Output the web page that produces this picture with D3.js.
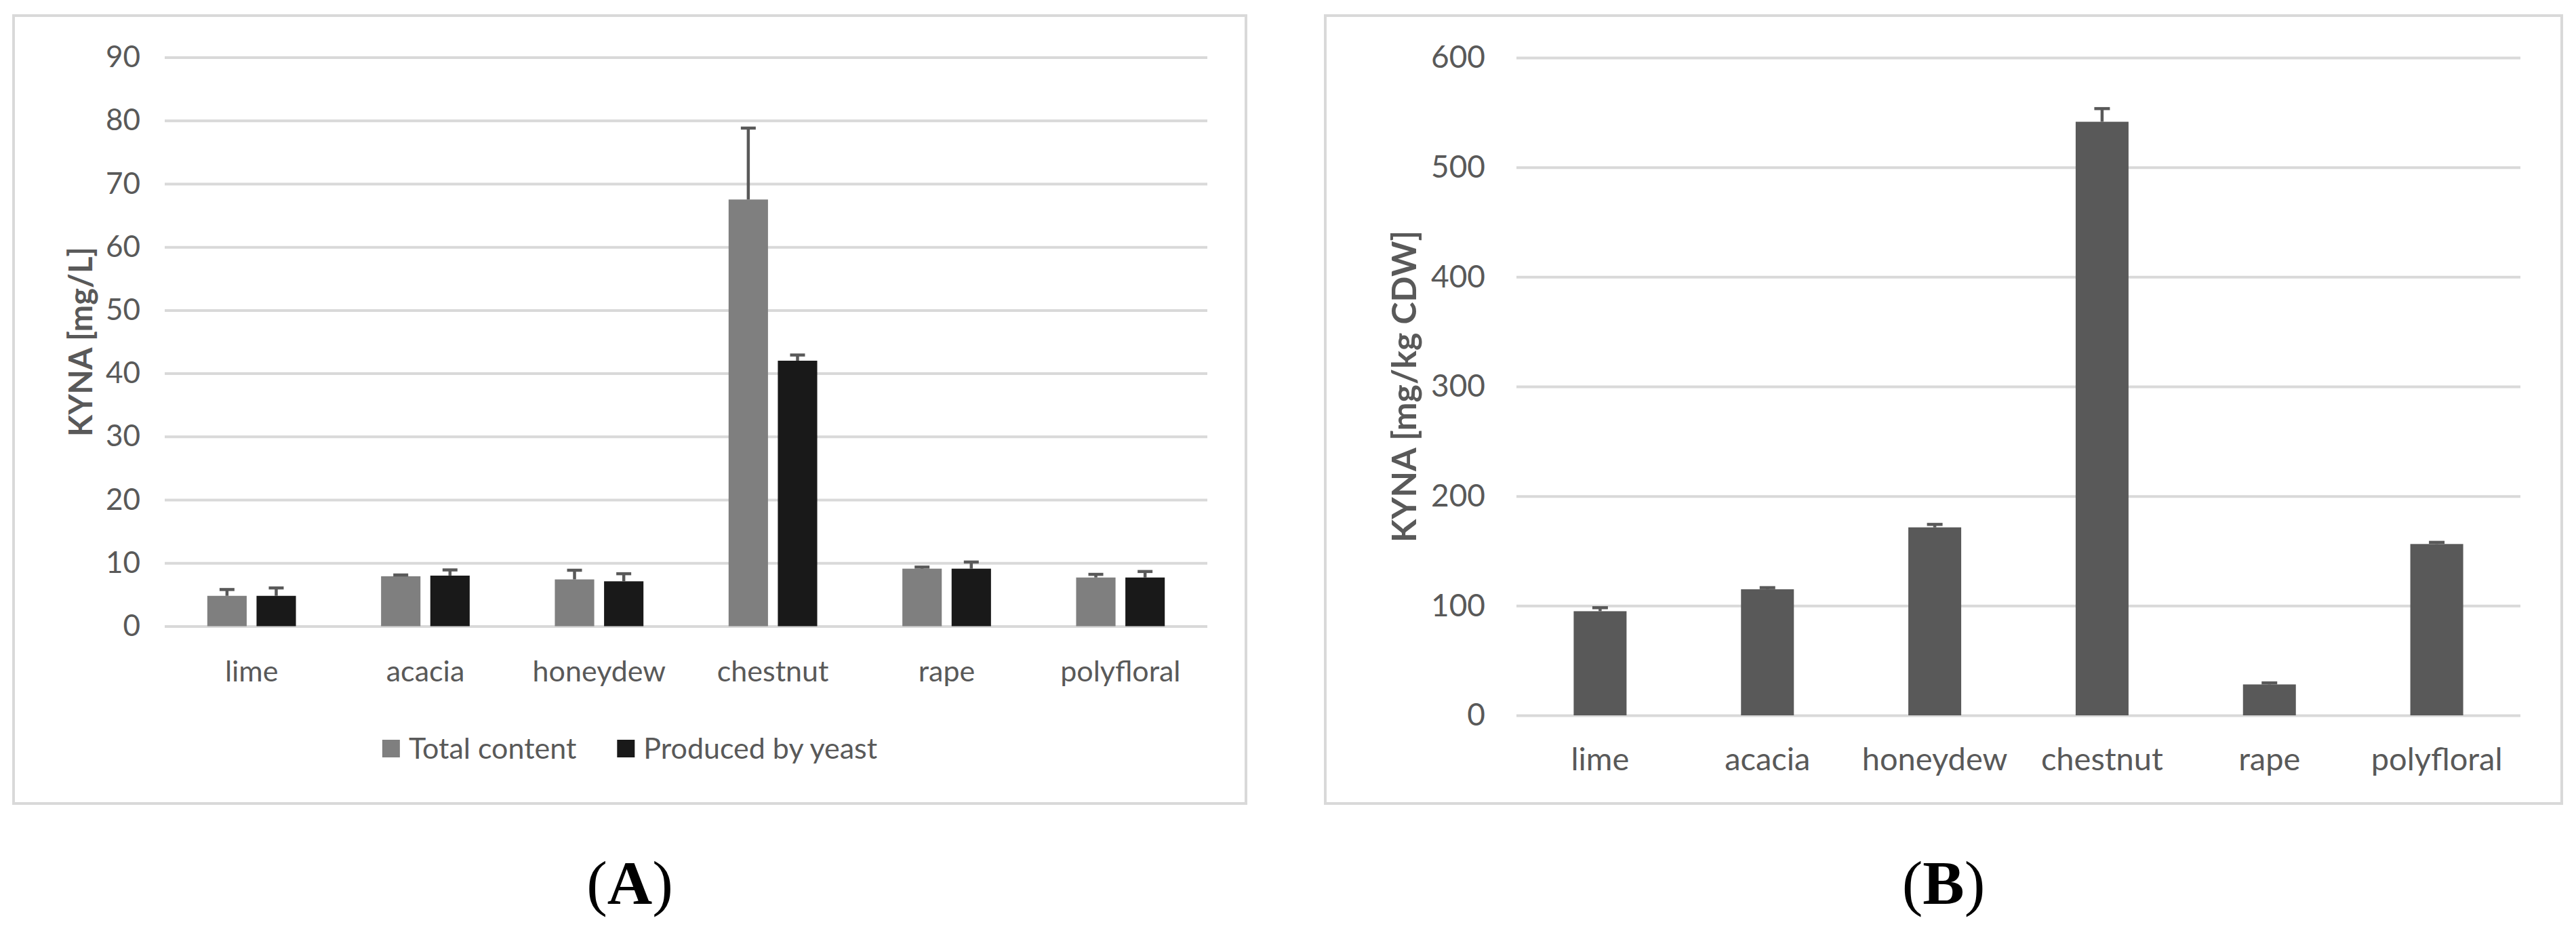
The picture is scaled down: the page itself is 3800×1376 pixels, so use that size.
<!DOCTYPE html>
<html>
<head>
<meta charset="utf-8">
<script src="https://cdn.jsdelivr.net/npm/d3@7"></script>
<style>
  body { margin: 0; background: #ffffff; }
  svg { display: block; }
</style>
</head>
<body>
<div id="chart"></div>
<script>
// --------------------------------------------
// DONNEES
// --------------------------------------------
const categories = ["lime", "acacia", "honeydew", "chestnut", "rape", "polyfloral"];

// (A) KYNA [mg/L]
const seriesA = ["Total content", "Produced by yeast"];
const totalContent = [4.8, 7.9, 7.4, 67.5, 9.1, 7.7];
const totalContentErr = [1.0, 0.2, 1.45, 11.3, 0.25, 0.5];
const producedByYeast = [4.8, 8.0, 7.1, 42.0, 9.1, 7.7];
const producedByYeastErr = [1.25, 0.9, 1.2, 0.9, 1.05, 0.95];
const ticksA = [0, 10, 20, 30, 40, 50, 60, 70, 80, 90];

// (B) KYNA [mg/kg CDW]
const kynaCdw = [95, 115, 171.5, 541.5, 28.2, 156.3];
const kynaCdwErr = [3.2, 1.5, 2.7, 12, 1.4, 1.5];
const ticksB = [0, 100, 200, 300, 400, 500, 600];

// --------------------------------------------
// STYLES
// --------------------------------------------
const W = 3800;
const H = 1376;
const SANS = "Lato, 'Open Sans', sans-serif";
const TEXT = "#595959";
const GRID = "#d9d9d9";
const colorsA = { "Total content": "#7f7f7f", "Produced by yeast": "#191919" };

const svg = d3
  .select("#chart")
  .append("svg")
  .attr("width", W)
  .attr("height", H)
  .style("background", "#ffffff");

// --------------------------------------------
// FONCTIONS
// --------------------------------------------
const drawFrame = (box) => {
  svg
    .append("rect")
    .attr("x", box.x0)
    .attr("y", box.y0)
    .attr("width", box.x1 - box.x0)
    .attr("height", box.y1 - box.y0)
    .attr("fill", "#ffffff")
    .attr("stroke", GRID)
    .attr("stroke-width", 4);
};

const drawYAxis = (g, y, ticks, plotW, opts) => {
  // axe Y + quadrillage horizontal
  const axis = g
    .append("g")
    .call(
      d3
        .axisLeft(y)
        .tickValues(ticks)
        .tickSize(-plotW)
        .tickPadding(opts.padding)
        .tickFormat(d3.format("d"))
    );
  axis.select(".domain").remove();
  axis.selectAll(".tick line").attr("stroke", GRID).attr("stroke-width", 4);
  axis
    .selectAll(".tick text")
    .attr("fill", TEXT)
    .style("font-family", SANS)
    .style("font-size", opts.fontSize + "px");
  return axis;
};

const drawXAxis = (g, x, plotH, opts) => {
  const axis = g
    .append("g")
    .attr("transform", `translate(0,${plotH})`)
    .call(d3.axisBottom(x).tickSize(0));
  axis.select(".domain").remove();
  axis
    .selectAll(".tick text")
    .attr("dy", null)
    .attr("y", opts.baseline)
    .attr("fill", TEXT)
    .style("font-family", SANS)
    .style("font-size", opts.fontSize + "px");
  return axis;
};

const drawYTitle = (label, cx, cy, fontSize) => {
  svg
    .append("text")
    .attr("transform", `translate(${cx},${cy}) rotate(-90)`)
    .attr("text-anchor", "middle")
    .attr("dominant-baseline", "central")
    .attr("fill", TEXT)
    .style("font-family", SANS)
    .style("font-weight", "bold")
    .style("font-size", fontSize + "px")
    .text(label);
};

const drawPanelLabel = (letter, cx, baseline) => {
  const t = svg
    .append("text")
    .attr("x", cx)
    .attr("y", baseline)
    .attr("text-anchor", "middle")
    .attr("fill", "#000000")
    .style("font-family", "'Liberation Serif', 'Times New Roman', serif")
    .style("font-size", "92px");
  t.append("tspan").text("(");
  t.append("tspan").style("font-weight", "bold").text(letter);
  t.append("tspan").text(")");
};

const drawErrorBars = (g, rows, cx, y, capW, color) => {
  // barres d'erreur (direction plus, avec embout)
  const eb = g.append("g").attr("stroke", color).attr("stroke-width", 4.5);
  eb.selectAll("line.v")
    .data(rows)
    .join("line")
    .attr("class", "v")
    .attr("x1", cx)
    .attr("x2", cx)
    .attr("y1", (d) => y(d.value))
    .attr("y2", (d) => y(d.value + d.err));
  eb.selectAll("line.cap")
    .data(rows)
    .join("line")
    .attr("class", "cap")
    .attr("x1", (d) => cx(d) - capW / 2)
    .attr("x2", (d) => cx(d) + capW / 2)
    .attr("y1", (d) => y(d.value + d.err))
    .attr("y2", (d) => y(d.value + d.err));
};

// --------------------------------------------
// PANNEAU A
// --------------------------------------------
const frameA = { x0: 20, y0: 23, x1: 1838, y1: 1185 };
const plotA = { left: 243, right: 1781, top: 84.5, bottom: 923.5 };
const wA = plotA.right - plotA.left;
const hA = plotA.bottom - plotA.top;

drawFrame(frameA);

const gA = svg.append("g").attr("transform", `translate(${plotA.left},${plotA.top})`);

const yA = d3.scaleLinear().domain([0, 90]).range([hA, 0]);
const x0A = d3
  .scaleBand()
  .domain(categories)
  .range([0, wA])
  .paddingInner(0.49)
  .paddingOuter(0.245);
const x1A = d3
  .scaleBand()
  .domain(seriesA)
  .range([0, x0A.bandwidth()])
  .paddingInner(0.2);

drawYAxis(gA, yA, ticksA, wA, { padding: 36, fontSize: 44 });
drawXAxis(gA, x0A, hA, { baseline: 1005 - plotA.bottom, fontSize: 43 });

const rowsA = categories.flatMap((c, i) => [
  { cat: c, serie: seriesA[0], value: totalContent[i], err: totalContentErr[i] },
  { cat: c, serie: seriesA[1], value: producedByYeast[i], err: producedByYeastErr[i] },
]);

gA.append("g")
  .selectAll("rect")
  .data(rowsA)
  .join("rect")
  .attr("x", (d) => x0A(d.cat) + x1A(d.serie))
  .attr("y", (d) => yA(d.value))
  .attr("width", x1A.bandwidth())
  .attr("height", (d) => hA - yA(d.value))
  .attr("fill", (d) => colorsA[d.serie]);

drawErrorBars(
  gA,
  rowsA,
  (d) => x0A(d.cat) + x1A(d.serie) + x1A.bandwidth() / 2,
  yA,
  22,
  "#595959"
);

drawYTitle("KYNA [mg/L]", 118, (plotA.top + plotA.bottom) / 2, 47);

// légende
const legend = svg.append("g");
const legendItems = legend
  .selectAll("g")
  .data(seriesA)
  .join("g");
legendItems
  .append("rect")
  .attr("width", 26)
  .attr("height", 26)
  .attr("y", -13)
  .attr("fill", (d) => colorsA[d]);
legendItems
  .append("text")
  .attr("x", 39)
  .attr("y", 15)
  .attr("fill", TEXT)
  .style("font-family", SANS)
  .style("font-size", "43px")
  .text((d) => d);
let offset = 0;
legendItems.each(function () {
  const item = d3.select(this);
  item.attr("transform", `translate(${offset},0)`);
  offset += 39 + item.select("text").node().getComputedTextLength() + 60;
});
offset -= 60;
legend.attr("transform", `translate(${(frameA.x0 + frameA.x1) / 2 - offset / 2},1104)`);

drawPanelLabel("A", (frameA.x0 + frameA.x1) / 2, 1333);

// --------------------------------------------
// PANNEAU B
// --------------------------------------------
const frameB = { x0: 1955, y0: 23, x1: 3779, y1: 1185 };
const plotB = { left: 2237, right: 3718, top: 85, bottom: 1055 };
const wB = plotB.right - plotB.left;
const hB = plotB.bottom - plotB.top;

drawFrame(frameB);

const gB = svg.append("g").attr("transform", `translate(${plotB.left},${plotB.top})`);

const yB = d3.scaleLinear().domain([0, 600]).range([hB, 0]);
const xB = d3
  .scaleBand()
  .domain(categories)
  .range([0, wB])
  .paddingInner(0.684)
  .paddingOuter(0.342);

drawYAxis(gB, yB, ticksB, wB, { padding: 46, fontSize: 46 });
drawXAxis(gB, xB, hB, { baseline: 1136 - plotB.bottom, fontSize: 47 });

const rowsB = categories.map((c, i) => ({ cat: c, value: kynaCdw[i], err: kynaCdwErr[i] }));

gB.append("g")
  .selectAll("rect")
  .data(rowsB)
  .join("rect")
  .attr("x", (d) => xB(d.cat))
  .attr("y", (d) => yB(d.value))
  .attr("width", xB.bandwidth())
  .attr("height", (d) => hB - yB(d.value))
  .attr("fill", "#595959");

drawErrorBars(gB, rowsB, (d) => xB(d.cat) + xB.bandwidth() / 2, yB, 23, "#595959");

drawYTitle("KYNA [mg/kg CDW]", 2070, (plotB.top + plotB.bottom) / 2, 50);

drawPanelLabel("B", (frameB.x0 + frameB.x1) / 2, 1333);
</script>
</body>
</html>
